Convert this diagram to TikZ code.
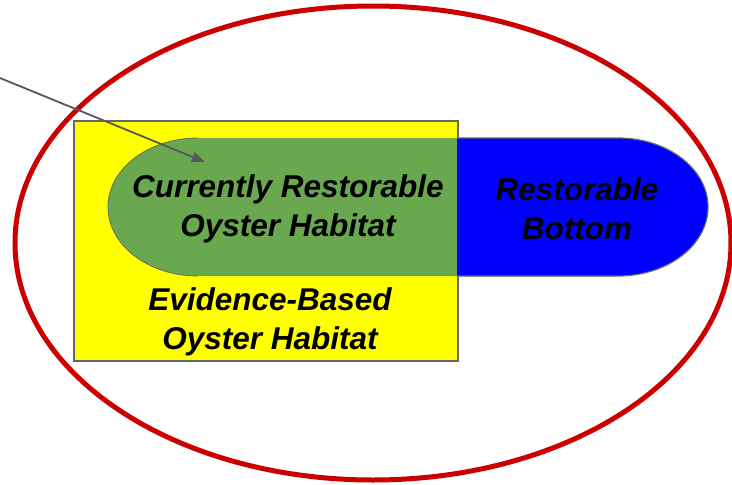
\documentclass[tikz,border=0pt]{standalone}
\usepackage{fontspec}
\setmainfont{Liberation Sans}
\usetikzlibrary{arrows.meta}
\definecolor{ringred}{HTML}{CC0000}
\definecolor{pillgreen}{HTML}{6AA84F}
\definecolor{pillblue}{HTML}{0000FF}
\definecolor{edgegray}{HTML}{666666}
\definecolor{arrowgray}{HTML}{595959}
\definecolor{boxyellow}{HTML}{FFFF00}
\tikzset{
  lbl/.style={font=\fontsize{31.5}{39}\selectfont\bfseries\itshape, align=center, text=black, inner sep=0pt},
}
\begin{document}
\begin{tikzpicture}[x=1pt,y=-1pt]
\useasboundingbox (0,0) rectangle (732,485);
\fill[white] (0,0) rectangle (732,485);
% evidence-based box
\node[draw=edgegray, line width=1.6pt, fill=boxyellow, minimum width=384pt, minimum height=240pt, anchor=north west, inner sep=0pt] (ebox) at (73,120) {};
% green part
\fill[pillgreen] (457,138) -- (198,138) arc[start angle=-90, end angle=-270, x radius=90, y radius=69] -- (457,276) -- cycle;
% blue part
\fill[pillblue] (457,138) -- (618,138) arc[start angle=-90, end angle=90, x radius=90, y radius=69] -- (457,276) -- cycle;
% pill outline
\draw[edgegray, line width=1.2pt] (457,138) -- (618,138) arc[start angle=-90, end angle=90, x radius=90, y radius=69] -- (457,276);
\draw[edgegray, line width=0.8pt] (198,138) arc[start angle=-90, end angle=-270, x radius=90, y radius=69];
% red ring
\draw[ringred, line width=5pt] (373,243) ellipse[x radius=358, y radius=237];
% labels
\node[lbl] (crh) at (288,209) {Currently Restorable\\Oyster Habitat};
\node[lbl] (rb) at (577,209) {Restorable\\Bottom};
\node[lbl] (ebh) at (270,322) {Evidence-Based\\Oyster Habitat};
% arrow
\coordinate (astart) at (0,78);
\coordinate (aend) at (205,162);
\draw[arrowgray, line width=1.8pt, -{Triangle[length=13pt, width=10pt]}] (astart) -- (aend);
\end{tikzpicture}
\end{document}
